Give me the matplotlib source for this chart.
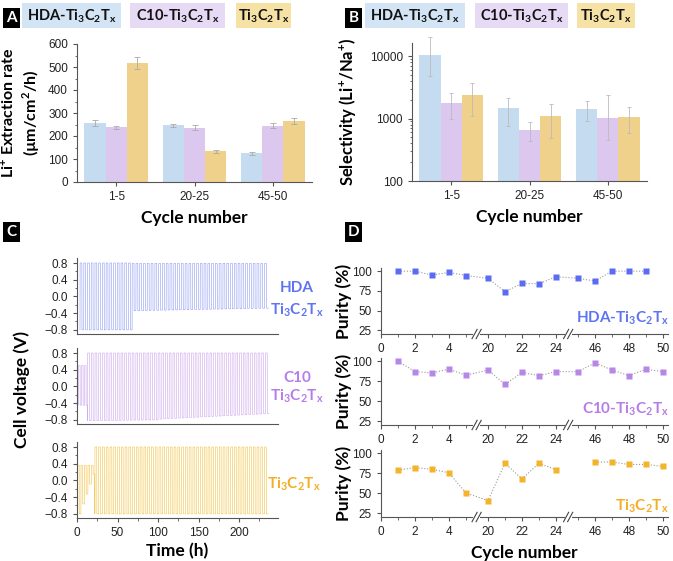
import numpy as np
import matplotlib.pyplot as plt
from matplotlib.patches import Rectangle
from matplotlib.ticker import MultipleLocator, FixedLocator, NullFormatter
import matplotlib.transforms as mtrans

plt.rcParams['font.family'] = ['Liberation Sans', 'DejaVu Sans']
plt.rcParams['axes.linewidth'] = 0.8
plt.rcParams['axes.edgecolor'] = '#555555'
plt.rcParams['xtick.color'] = '#555555'
plt.rcParams['ytick.color'] = '#555555'
plt.rcParams['xtick.labelcolor'] = '#222222'
plt.rcParams['ytick.labelcolor'] = '#222222'
plt.rcParams['xtick.labelsize'] = 8.5
plt.rcParams['ytick.labelsize'] = 8.5
plt.rcParams['xtick.major.size'] = 3
plt.rcParams['ytick.major.size'] = 3
plt.rcParams['xtick.minor.size'] = 1.8
plt.rcParams['ytick.minor.size'] = 1.8

BOLD = 'Lato'

# ---- data ----
groups = ['1-5', '20-25', '45-50']
materials = ['HDA-Ti$_\\mathregular{3}$C$_\\mathregular{2}$T$_\\mathregular{x}$',
             'C10-Ti$_\\mathregular{3}$C$_\\mathregular{2}$T$_\\mathregular{x}$',
             'Ti$_\\mathregular{3}$C$_\\mathregular{2}$T$_\\mathregular{x}$']

rate_hda = [255, 247, 125]
rate_c10 = [238, 236, 245]
rate_ti = [518, 133, 265]
rate_err_hda = [13, 7, 6]
rate_err_c10 = [7, 12, 12]
rate_err_ti = [27, 5, 13]

sel_hda = [10500, 1460, 1410]
sel_c10 = [1800, 665, 1025]
sel_ti = [2400, 1090, 1065]
sel_err_hda = [10000, 700, 500]
sel_err_c10 = [800, 220, 1350]
sel_err_ti = [1300, 650, 480]

# voltage trace segments: (t_start, t_end, n_cycles, v_high, v_low_start, v_low_end)
volt_hda = [(3.7, 68, 14, 0.8, -0.8, -0.8), (68, 236, 36, 0.79, -0.34, -0.28)]
volt_c10 = [(2, 13, 3, 0.5, -0.45, -0.45), (13, 100, 19, 0.8, -0.82, -0.8),
            (100, 237, 30, 0.8, -0.78, -0.65)]
volt_ti = [(0.5, 22, 5, 0.36, -0.8, 0.15), (22, 236, 46, 0.8, -0.8, -0.8)]

cyc_hda = [1, 2, 3, 4, 5, 20, 21, 22, 23, 24, 45, 46, 47, 48, 49]
pur_hda = [100, 100, 95, 98.5, 94.5, 91, 74, 84.5, 84, 93, 91, 87.5, 100, 100, 100]
cyc_c10 = [1, 2, 3, 4, 5, 20, 21, 22, 23, 24, 45, 46, 47, 48, 49, 50]
pur_c10 = [100, 87, 85.5, 90, 82.5, 89, 71, 86, 82, 87, 87, 98, 89, 82, 90, 87]
cyc_ti = [1, 2, 3, 4, 5, 20, 21, 22, 23, 24, 46, 47, 48, 49, 50]
pur_ti = [79, 82, 80, 75.5, 50.5, 41, 87.5, 68, 87.5, 79.5, 89, 89, 86, 86, 83.5]
d_ticks = [0, 2, 4, 20, 22, 24, 46, 48, 50]

bar_cols = ['#c5dbf0', '#dcc7ee', '#f0d18c']
box_cols = ['#d3e4f5', '#e6daf4', '#f7e2a6']
wave_cols = ['#9aa6f4', '#d0aeee', '#f5c855']
mark_cols = ['#5a6cf4', '#b687e6', '#f2b42a']
txt_cols = ['#5f74f0', '#b67de8', '#f4ad24']

W, H = 673, 561
fig = plt.figure(figsize=(W / 100, H / 100), dpi=100)


def px(l, t, r, b):
    return [l / W, 1 - b / H, (r - l) / W, (b - t) / H]


def fx(x):
    return x / W


def fy(y):
    return 1 - y / H


def style(ax):
    ax.spines['top'].set_visible(False)
    ax.spines['right'].set_visible(False)
    ax.tick_params(direction='out', which='both')


def letter(x, y, s):
    fig.patches.append(Rectangle((fx(x), fy(y + 20)), 17 / W, 20 / H, transform=fig.transFigure,
                                 facecolor='black', edgecolor='none'))
    fig.text(fx(x + 8.5), fy(y + 10.5), s, color='white', fontfamily=BOLD, fontweight='bold',
             fontsize=11, ha='center', va='center')


def legend_boxes(spans, y0, y1):
    for (l, r), col, lab in zip(spans, box_cols, materials):
        fig.patches.append(Rectangle((fx(l), fy(y1)), (r - l) / W, (y1 - y0) / H,
                                     transform=fig.transFigure, facecolor=col, edgecolor='none'))
        fig.text(fx((l + r) / 2), fy((y0 + y1) / 2 + 1), lab, fontfamily=BOLD, fontweight='bold',
                 fontsize=10.5, ha='center', va='center', color='#111111')


# ---- panel A ----
letter(3, 8, 'A')
legend_boxes([(22, 121), (130, 225), (236, 291)], 3, 28)
axA = fig.add_axes(px(77, 44, 312, 182))
style(axA)
x = np.arange(len(groups))
bw = 0.27
for i, (v, e) in enumerate([(rate_hda, rate_err_hda), (rate_c10, rate_err_c10), (rate_ti, rate_err_ti)]):
    axA.bar(x + (i - 1) * bw, v, bw, color=bar_cols[i], yerr=e, ecolor='#aaaaaa',
            error_kw=dict(lw=0.6, capsize=2, capthick=0.6))
axA.set_xlim(-0.5, 2.5)
axA.set_ylim(0, 600)
axA.set_xticks(x, groups)
axA.yaxis.set_major_locator(MultipleLocator(100))
axA.yaxis.set_minor_locator(MultipleLocator(50))
axA.set_xlabel('Cycle number', fontfamily=BOLD, fontweight='bold', fontsize=12.5, labelpad=5)
axA.set_ylabel('Li$^\\mathregular{+}$ Extraction rate\n(µm/cm$^\\mathregular{2}$/h)', fontfamily=BOLD,
               fontweight='bold', fontsize=11.5, linespacing=1.25)
axA.yaxis.set_label_coords(-0.148, 0.5)

# ---- panel B ----
letter(345, 8, 'B')
legend_boxes([(365, 465), (475, 568), (577, 635)], 3, 28)
axB = fig.add_axes(px(412, 43, 647, 181))
style(axB)
for i, (v, e) in enumerate([(sel_hda, sel_err_hda), (sel_c10, sel_err_c10), (sel_ti, sel_err_ti)]):
    v = np.array(v, dtype=float)
    e = np.array(e, dtype=float)
    lower = np.minimum(e, 0.55 * v)
    axB.bar(x + (i - 1) * bw, v, bw, color=bar_cols[i])
    axB.errorbar(x + (i - 1) * bw, v, yerr=[lower, e], fmt='none', ecolor='#bbbbbb', lw=0.6,
                 capsize=1.5, capthick=0.6, clip_on=False)
axB.set_yscale('log')
axB.set_xlim(-0.5, 2.5)
axB.set_ylim(100, 16200)
axB.set_xticks(x, groups)
axB.yaxis.set_major_locator(FixedLocator([100, 1000, 10000]))
axB.set_yticklabels(['100', '1000', '10000'])
axB.yaxis.set_minor_formatter(NullFormatter())
axB.set_xlabel('Cycle number', fontfamily=BOLD, fontweight='bold', fontsize=12.5, labelpad=5)
axB.set_ylabel('Selectivity (Li$^\\mathregular{+}$/Na$^\\mathregular{+}$)', fontfamily=BOLD,
               fontweight='bold', fontsize=12)
axB.yaxis.set_label_coords(-0.228, 0.5)

# ---- panel C ----
letter(3, 222, 'C')


def wave(segs):
    t, v = [], []
    for t0, t1, n, vh, vl0, vl1 in segs:
        per = (t1 - t0) / n
        for k in range(n):
            vl = vl0 + (vl1 - vl0) * k / max(n - 1, 1)
            s = t0 + k * per
            t += [s, s + 0.03 * per, s + 0.5 * per, s + 0.53 * per, s + per]
            v += [vl, vh, vh, vl, vl]
    return t, v


c_boxes = [(258, 334), (348, 424), (442, 518)]
for j, (segs, (t0, b0)) in enumerate(zip([volt_hda, volt_c10, volt_ti], c_boxes)):
    ax = fig.add_axes(px(77, t0, 278, b0))
    style(ax)
    tt, vv = wave(segs)
    ax.plot(tt, vv, color=wave_cols[j], lw=0.45)
    ax.set_xlim(0, 248)
    ax.set_ylim(-0.9, 0.92)
    ax.set_yticks([-0.8, -0.4, 0.0, 0.4, 0.8])
    ax.xaxis.set_major_locator(MultipleLocator(50))
    ax.xaxis.set_minor_locator(MultipleLocator(25))
    ax.yaxis.set_minor_locator(MultipleLocator(0.2))
    if j < 2:
        ax.tick_params(axis='x', which='both', labelbottom=False, length=0)
    else:
        ax.set_xlabel('Time (h)', fontfamily=BOLD, fontweight='bold', fontsize=12.5, labelpad=3)

fig.text(fx(22), fy(390), 'Cell voltage (V)', rotation=90, fontfamily=BOLD, fontweight='bold',
         fontsize=12.5, ha='center', va='center')
fig.text(fx(297), fy(288), 'HDA', color=txt_cols[0], fontfamily=BOLD, fontweight='bold',
         fontsize=11, ha='center', va='center')
fig.text(fx(297), fy(310), materials[2], color=txt_cols[0], fontfamily=BOLD, fontweight='bold',
         fontsize=11, ha='center', va='center')
fig.text(fx(297), fy(378), 'C10', color=txt_cols[1], fontfamily=BOLD, fontweight='bold',
         fontsize=11, ha='center', va='center')
fig.text(fx(297), fy(396), materials[2], color=txt_cols[1], fontfamily=BOLD, fontweight='bold',
         fontsize=11, ha='center', va='center')
fig.text(fx(294), fy(484), materials[2], color=txt_cols[2], fontfamily=BOLD, fontweight='bold',
         fontsize=11, ha='center', va='center')

# ---- panel D ----
letter(345, 222, 'D')


def dmap(c):
    c = np.asarray(c, dtype=float)
    return np.where(c <= 10, c, np.where(c <= 30, c - 13.7, c - 33.4))


d_boxes = [(268, 334), (358, 425), (450, 517)]
d_sets = [(cyc_hda, pur_hda), (cyc_c10, pur_c10), (cyc_ti, pur_ti)]
d_labels = [(318, materials[0]), (409, materials[1]), (506, materials[2])]
for j, ((cy, pu), (t0, b0)) in enumerate(zip(d_sets, d_boxes)):
    ax = fig.add_axes(px(381, t0, 668, b0))
    style(ax)
    cy = np.array(cy)
    pu = np.array(pu)
    if j == 2:
        for m in [cy <= 24, cy >= 45]:
            ax.plot(dmap(cy[m]), pu[m], ls=':', color='#999999', lw=0.8)
    else:
        ax.plot(dmap(cy), pu, ls=':', color='#999999', lw=0.8)
    ax.plot(dmap(cy), pu, ls='none', marker='s', ms=4.3, color=mark_cols[j], mec='none')
    ax.set_xlim(0, 16.9)
    ax.set_ylim(20.5, 104)
    ax.set_yticks([25, 50, 75, 100])
    ax.set_xticks(dmap(d_ticks), [str(d) for d in d_ticks])
    ax.xaxis.set_minor_locator(FixedLocator(dmap([1, 3, 5, 21, 23, 45, 47, 49])))
    ax.set_ylabel('Purity (%)', fontfamily=BOLD, fontweight='bold', fontsize=12.5, labelpad=2)
    ax.yaxis.set_label_coords(-0.1, 0.5)
    trans = mtrans.blended_transform_factory(ax.transData, ax.transAxes)
    for xb in [5.63, 11.02]:
        ax.add_patch(Rectangle((xb - 0.2, -0.03), 0.4, 0.06, transform=trans, facecolor='white',
                               edgecolor='none', clip_on=False, zorder=5))
        for off in [-0.12, 0.12]:
            ax.plot([xb + off - 0.15, xb + off + 0.15], [-0.07, 0.07], color='#444444', lw=0.8,
                    transform=trans, clip_on=False, zorder=6)
    yl, lab = d_labels[j]
    fig.text(fx(669), fy(yl), lab, color=txt_cols[j], fontfamily=BOLD, fontweight='bold',
             fontsize=11, ha='right', va='center')
    if j == 2:
        ax.set_xlabel('Cycle number', fontfamily=BOLD, fontweight='bold', fontsize=12.5, labelpad=5)

fig.savefig('out.png', dpi=100)
